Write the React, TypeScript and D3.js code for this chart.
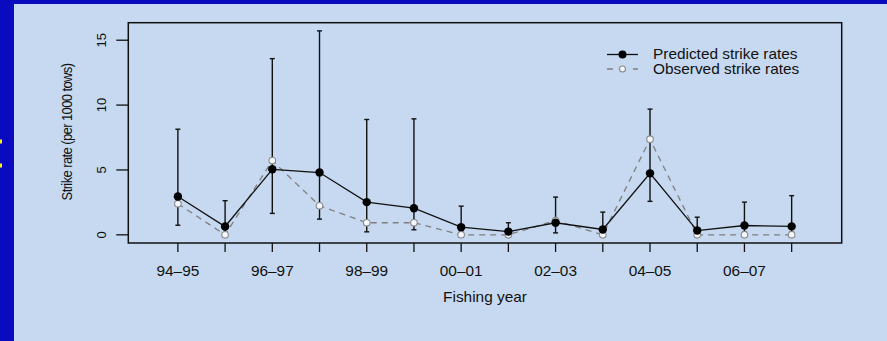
import React from "react";
import * as d3 from "d3";

const years = ["94–95","95–96","96–97","97–98","98–99","99–00","00–01","01–02","02–03","03–04","04–05","05–06","06–07","07–08"];
const predicted = [2.95, 0.64, 5.05, 4.8, 2.52, 2.05, 0.59, 0.25, 0.93, 0.41, 4.74, 0.33, 0.72, 0.65];
const observed = [2.4, 0, 5.72, 2.24, 0.93, 0.93, 0, 0, 1.1, 0, 7.37, 0, 0, 0];
const upper = [8.14, 2.63, 13.58, 15.72, 8.89, 8.94, 2.21, 0.93, 2.91, 1.75, 9.69, 1.36, 2.52, 3.02];
const lower = [0.74, 0.1, 1.65, 1.21, 0.23, 0.39, 0.2, 0.05, 0.15, 0.1, 2.58, 0.1, 0.2, 0.2];
const yTicks = [0, 5, 10, 15];
const legendLabels = ["Predicted strike rates", "Observed strike rates"];

const W = 887, H = 341;
const FONT = "'Liberation Sans', Arial, sans-serif";
const SX = 1.1;

function HText({ x, y, anchor = "start", size = 14, children }: { x: number; y: number; anchor?: string; size?: number; children: React.ReactNode }) {
  return (
    <text transform={`translate(${x},${y}) scale(${SX},1)`} textAnchor={anchor} dominantBaseline="central" fontSize={size} fill="#111">{children}</text>
  );
}

export default function App() {
  const x = d3.scaleLinear().domain([-1.05, 14.06]).range([128.3, 841.7]);
  const y = d3.scaleLinear().domain([-0.63, 16.35]).range([243, 22.7]);
  const idx = years.map((_, i) => i);
  const lineP = d3.line<number>().x((i) => x(i)).y((i) => y(predicted[i]));
  const lineO = d3.line<number>().x((i) => x(i)).y((i) => y(observed[i]));
  const [x0, x1] = x.range();
  const [yb, yt] = y.range();
  return (
    <svg width={W} height={H} style={{ position: "fixed", left: 0, top: 0 }} fontFamily={FONT}>
      <rect x={0} y={0} width={W} height={H} fill="#0a0abf" />
      <rect x={14} y={4} width={W - 14} height={H - 4} fill="#c6d9f0" />
      <rect x={0} y={139.5} width={2} height={4} fill="#ffff00" />
      <rect x={0} y={163.5} width={2} height={4} fill="#ffff00" />

      {/* box */}
      <rect x={x0} y={yt} width={x1 - x0} height={yb - yt} fill="none" stroke="#111" strokeWidth={1.5} />

      {/* y axis */}
      {yTicks.map((t) => (
        <g key={t}>
          <line x1={x0 - 12} x2={x0} y1={y(t)} y2={y(t)} stroke="#111" strokeWidth={1.3} />
          <text transform={`translate(${101},${y(t)}) rotate(-90)`} textAnchor="middle" dominantBaseline="central" fontSize={13} fill="#111">{t}</text>
        </g>
      ))}
      <text transform={`translate(${67},${132}) rotate(-90) scale(1,1.1)`} textAnchor="middle" dominantBaseline="central" fontSize={13} letterSpacing={-0.6} fill="#111">Strike rate (per 1000 tows)</text>

      {/* x axis */}
      {idx.map((i) => (
        <g key={i}>
          <line x1={x(i)} x2={x(i)} y1={yb} y2={yb + 9} stroke="#111" strokeWidth={1.3} />
          {i % 2 === 0 && <HText x={x(i)} y={271} anchor="middle">{years[i]}</HText>}
        </g>
      ))}
      <HText x={(x0 + x1) / 2} y={297} anchor="middle">Fishing year</HText>

      {/* error bars */}
      {idx.map((i) => (
        <g key={"e" + i} stroke="#111" strokeWidth={1.4}>
          <line x1={x(i)} x2={x(i)} y1={y(lower[i])} y2={y(upper[i])} />
          <line x1={x(i) - 2.5} x2={x(i) + 2.5} y1={y(upper[i])} y2={y(upper[i])} />
          <line x1={x(i) - 2.5} x2={x(i) + 2.5} y1={y(lower[i])} y2={y(lower[i])} />
        </g>
      ))}

      {/* observed */}
      <path d={lineO(idx) || ""} fill="none" stroke="#7f7f7f" strokeWidth={1.3} strokeDasharray="6,5" />
      {idx.map((i) => (
        <circle key={"o" + i} cx={x(i)} cy={y(observed[i])} r={3.3} fill="#f4f7fb" stroke="#8a8a8a" strokeWidth={1.1} />
      ))}

      {/* predicted */}
      <path d={lineP(idx) || ""} fill="none" stroke="#111" strokeWidth={1.3} />
      {idx.map((i) => (
        <circle key={"p" + i} cx={x(i)} cy={y(predicted[i])} r={4.2} fill="#000" />
      ))}

      {/* legend */}
      <g>
        <line x1={607} x2={638} y1={54.5} y2={54.5} stroke="#111" strokeWidth={1.3} />
        <circle cx={622.5} cy={54.5} r={4} fill="#000" />
        <HText x={653} y={54.5}>{legendLabels[0]}</HText>
        <line x1={607} x2={638} y1={69} y2={69} stroke="#7f7f7f" strokeWidth={1.3} strokeDasharray="6,7" />
        <circle cx={622.5} cy={69} r={3} fill="#f4f7fb" stroke="#8a8a8a" strokeWidth={1.1} />
        <HText x={653} y={69}>{legendLabels[1]}</HText>
      </g>
    </svg>
  );
}
